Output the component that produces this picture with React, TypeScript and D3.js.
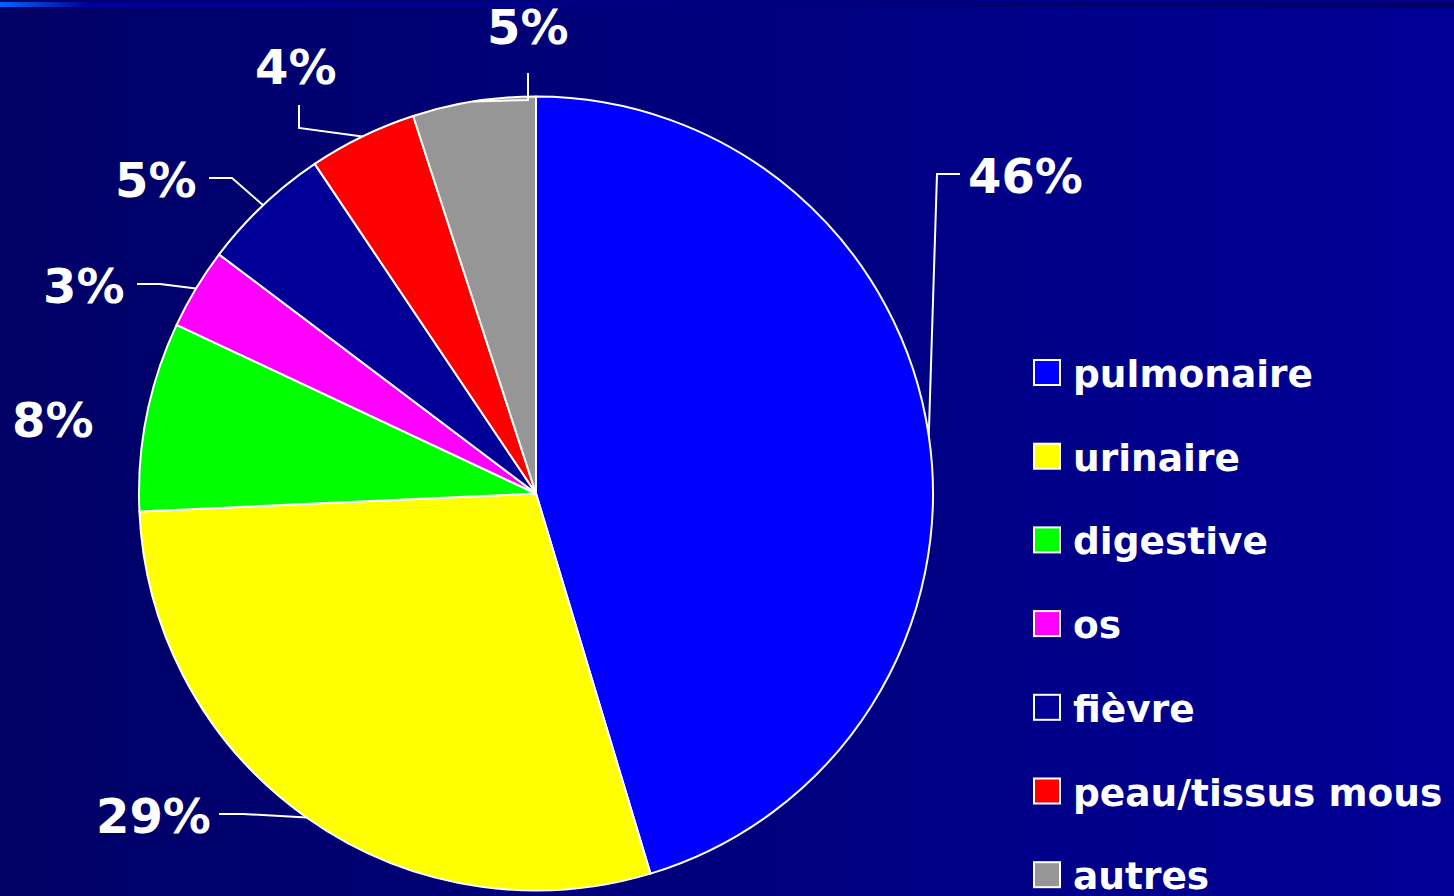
import React from "react";
import * as d3 from "d3";

const categories = ["pulmonaire", "urinaire", "digestive", "os", "fièvre", "peau/tissus mous", "autres"];
const values = [45.3, 28.9, 7.7, 3.3, 5.3, 4.4, 5.0];
const percentLabels = ["46%", "29%", "8%", "3%", "5%", "4%", "5%"];
const colors = ["#0000ff", "#ffff00", "#00ff00", "#ff00ff", "#000099", "#ff0000", "#969696"];

// layout for the label texts (x = text anchor start, y = baseline) and leader elbows
const labelLayout = [
  { x: 968, y: 193, elbow: [937, 174], end: [960, 174] },
  { x: 96, y: 833, elbow: [243, 814], end: [219, 814] },
  { x: 12, y: 437, elbow: null, end: null },
  { x: 43, y: 303, elbow: [160, 284], end: [137, 284] },
  { x: 115, y: 197, elbow: [232, 178], end: [209, 178] },
  { x: 255, y: 84, elbow: [299, 128], end: [299, 105] },
  { x: 487, y: 44, elbow: [528, 100], end: [528, 73] },
];

const W = 1454;
const H = 896;
const cx = 536;
const cy = 493.5;
const R = 397;

export default function App() {
  const pie = d3.pie<number>().sort(null).value((d) => d);
  const arcs = pie(values);
  const arc = d3.arc<d3.PieArcDatum<number>>().innerRadius(0).outerRadius(R);
  const font = "'DejaVu Sans', Verdana, sans-serif";

  return (
    <svg width={W} height={H} style={{ position: "absolute", left: 0, top: 0, display: "block" }}>
      <defs>
        <linearGradient id="bg" x1="0" x2="1" y1="0" y2="0">
          <stop offset="0" stopColor="#000066" />
          <stop offset="1" stopColor="#000096" />
        </linearGradient>
        <linearGradient id="topbar" x1="0" x2="1" y1="0" y2="0">
          <stop offset="0" stopColor="#0066ff" />
          <stop offset="0.04" stopColor="#0022bb" />
          <stop offset="0.06" stopColor="#000099" />
          <stop offset="1" stopColor="#000066" />
        </linearGradient>
      </defs>
      <rect x={0} y={0} width={W} height={H} fill="url(#bg)" />
      <rect x={0} y={2} width={W} height={5} fill="url(#topbar)" />
      <g transform={`translate(${cx},${cy})`}>
        {arcs.map((a, i) => (
          <path key={i} d={arc(a) || ""} fill={colors[i]} stroke="#ffffff" strokeWidth={2} strokeLinejoin="round" />
        ))}
      </g>
      {arcs.map((a, i) => {
        const L = labelLayout[i];
        const mid = (a.startAngle + a.endAngle) / 2;
        const px = cx + R * Math.sin(mid);
        const py = cy - R * Math.cos(mid);
        return (
          <g key={i}>
            {L.elbow && L.end && (
              <polyline
                points={`${px},${py} ${L.elbow[0]},${L.elbow[1]} ${L.end[0]},${L.end[1]}`}
                fill="none"
                stroke="#ffffff"
                strokeWidth={2}
              />
            )}
            <text x={L.x} y={L.y} fill="#ffffff" fontFamily={font} fontWeight="bold" fontSize={48}>
              {percentLabels[i]}
            </text>
          </g>
        );
      })}
      {categories.map((c, i) => {
        const y0 = 360 + i * 83.7;
        return (
          <g key={c}>
            <rect x={1034} y={y0} width={26} height={25} fill={colors[i]} stroke="#ffffff" strokeWidth={2} />
            <text x={1073} y={y0 + 27} fill="#ffffff" fontFamily={font} fontWeight="bold" fontSize={37.5}>
              {c}
            </text>
          </g>
        );
      })}
    </svg>
  );
}
